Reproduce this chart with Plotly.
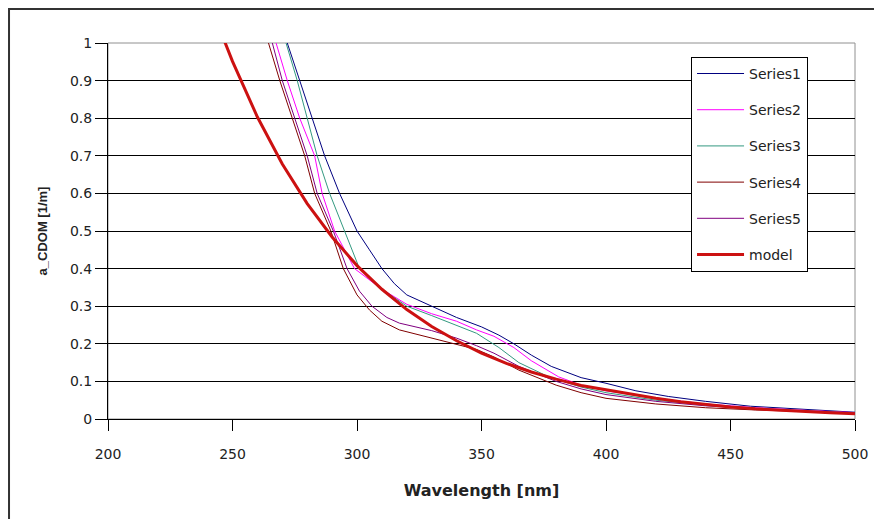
import plotly.graph_objects as go

# ---- data ----
wl_s1 = [266, 272, 277, 282, 287, 293, 300, 305, 310, 315, 320, 330, 340, 350, 357, 363, 370, 378, 390, 400, 412, 425, 440, 458, 480, 500]
a_s1 = [1.12, 1.0, 0.9, 0.8, 0.7, 0.6, 0.5, 0.45, 0.4, 0.36, 0.33, 0.30, 0.27, 0.245, 0.223, 0.20, 0.17, 0.14, 0.11, 0.095, 0.075, 0.06, 0.047, 0.034, 0.025, 0.018]

wl_s2 = [262, 267.5, 272, 277, 283, 286, 291, 299, 310, 320, 330, 340, 348, 355, 363, 370, 381, 390, 400, 420, 440, 460, 480, 500]
a_s2 = [1.11, 1.0, 0.9, 0.8, 0.7, 0.6, 0.5, 0.4, 0.345, 0.305, 0.28, 0.26, 0.237, 0.22, 0.19, 0.155, 0.112, 0.09, 0.075, 0.055, 0.04, 0.03, 0.023, 0.017]

wl_s3 = [266, 271.5, 276, 280, 284, 289, 295, 301, 310, 320, 330, 340, 348, 357, 365, 377, 390, 400, 420, 440, 460, 480, 500]
a_s3 = [1.11, 1.0, 0.9, 0.8, 0.7, 0.6, 0.5, 0.4, 0.345, 0.30, 0.275, 0.25, 0.228, 0.19, 0.15, 0.112, 0.085, 0.07, 0.05, 0.037, 0.028, 0.022, 0.016]

wl_s4 = [259, 264.5, 269, 274, 279, 283, 289.5, 294.5, 300, 305, 310, 317, 330, 340, 348, 355, 365, 380, 390, 400, 410, 420, 440, 460, 480, 500]
a_s4 = [1.12, 1.0, 0.9, 0.8, 0.7, 0.6, 0.5, 0.4, 0.33, 0.29, 0.26, 0.237, 0.215, 0.2, 0.185, 0.165, 0.13, 0.09, 0.07, 0.055, 0.047, 0.04, 0.03, 0.024, 0.02, 0.015]

wl_s5 = [260.5, 266, 270, 275, 280, 284, 290.5, 296, 301, 306, 312, 317, 330, 340, 348, 355, 365, 380, 390, 400, 410, 420, 440, 460, 480, 500]
a_s5 = [1.12, 1.0, 0.9, 0.8, 0.7, 0.6, 0.5, 0.4, 0.34, 0.3, 0.27, 0.255, 0.235, 0.215, 0.195, 0.175, 0.14, 0.1, 0.08, 0.065, 0.055, 0.047, 0.035, 0.027, 0.021, 0.016]

wl_model = [245, 247, 250, 260, 270, 280, 290, 300, 310, 320, 330, 340, 350, 360, 370, 380, 390, 400, 410, 420, 430, 440, 450, 460, 470, 480, 490, 500]
a_model = [1.035, 1.0, 0.951, 0.803, 0.678, 0.573, 0.484, 0.408, 0.345, 0.291, 0.246, 0.208, 0.175, 0.148, 0.125, 0.106, 0.089, 0.078, 0.066, 0.055, 0.046, 0.039, 0.032, 0.027, 0.023, 0.0195, 0.0165, 0.014]

series_names = ["Series1", "Series2", "Series3", "Series4", "Series5", "model"]
series_colors = ["#000080", "#FF00FF", "#339980", "#800000", "#800080", "#CC1111"]
series_widths = [1, 1, 1, 1, 1, 3]
x_ticks = [200, 250, 300, 350, 400, 450, 500]
y_ticks = [0, 0.1, 0.2, 0.3, 0.4, 0.5, 0.6, 0.7, 0.8, 0.9, 1]
y_tick_labels = ["0", "0.1", "0.2", "0.3", "0.4", "0.5", "0.6", "0.7", "0.8", "0.9", "1"]

xs = [wl_s1, wl_s2, wl_s3, wl_s4, wl_s5, wl_model]
ys = [a_s1, a_s2, a_s3, a_s4, a_s5, a_model]

fig = go.Figure()
for i, name in enumerate(series_names):
    fig.add_trace(go.Scatter(
        x=xs[i], y=ys[i], mode="lines", name=name,
        legendgroup=name,
        line=dict(color=series_colors[i], width=series_widths[i]),
    ))

wide_font = "DejaVu Sans, Verdana, sans-serif"
arial = "Liberation Sans, Arial, sans-serif"

fig.update_layout(
    width=874, height=519,
    margin=dict(l=108, r=19, t=43, b=100, autoexpand=False),
    paper_bgcolor="white", plot_bgcolor="white",
    font=dict(family=wide_font, size=13, color="#222222"),
    showlegend=True,
    legend=dict(
        x=0.7805, y=0.963, xanchor="left", yanchor="top",
        bgcolor="white", bordercolor="black", borderwidth=1,
        font=dict(family=wide_font, size=14, color="#222222"),
        tracegroupgap=15,
        itemwidth=47,
    ),
    xaxis=dict(
        range=[200, 500], tickvals=x_ticks, ticktext=[str(v) for v in x_ticks],
        showgrid=False, zeroline=False, automargin=False,
        showline=True, linecolor="black", linewidth=1,
        ticks="outside", ticklen=11, tickcolor="black",
        ticklabelstandoff=11,
        tickfont=dict(family=wide_font, size=14, color="#222222"),
        title=dict(text="<b>Wavelength [nm]</b>",
                   font=dict(family=wide_font, size=16, color="#222222"), standoff=24),
    ),
    yaxis=dict(
        range=[0, 1], tickvals=y_ticks, ticktext=y_tick_labels,
        showgrid=True, gridcolor="black", gridwidth=1,
        zeroline=False, automargin=False,
        showline=True, linecolor="black", linewidth=1,
        ticks="outside", ticklen=12, tickcolor="black",
        tickfont=dict(family=wide_font, size=14, color="#222222"),
        title=dict(text="<b>a_CDOM [1/m]</b>",
                   font=dict(family=arial, size=13, color="#222222"), standoff=19),
    ),
    shapes=[
        # grey plot-area frame (top/right), above the grid
        dict(type="rect", xref="paper", yref="paper", x0=0, x1=1, y0=0, y1=1,
             line=dict(color="#909090", width=1), layer="between"),
        # outer chart border (right and bottom edges lie outside the picture)
        dict(type="rect", xref="paper", yref="paper", x0=-0.1325, x1=1.3, y0=-0.5, y1=1.0904,
             line=dict(color="#333333", width=2)),
    ],
)

fig.write_html(
    "out.html",
    config={"displayModeBar": False},
    post_script="document.body.style.margin='0px';document.body.style.overflow='hidden';",
)
